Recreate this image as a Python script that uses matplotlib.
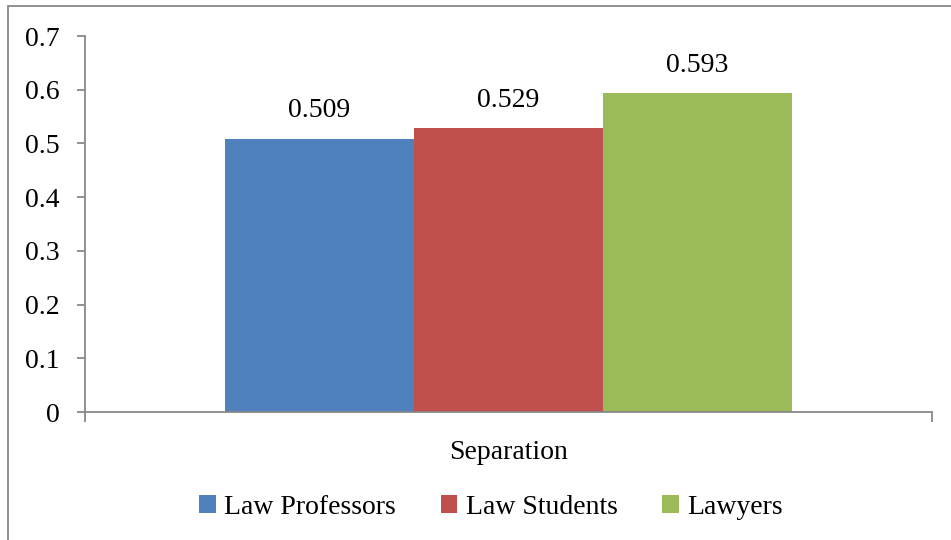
import matplotlib
matplotlib.use("Agg")
import matplotlib.pyplot as plt
from matplotlib.patches import Rectangle, Patch
import numpy as np

categories = ["Separation"]
series_names = ["Law Professors", "Law Students", "Lawyers"]
series_values = [[0.509], [0.529], [0.593]]
colors = ["#4F81BD", "#C0504D", "#9BBB59"]
yticks = [0, 0.1, 0.2, 0.3, 0.4, 0.5, 0.6, 0.7]
ytick_labels = ["0", "0.1", "0.2", "0.3", "0.4", "0.5", "0.6", "0.7"]

plt.rcParams['font.family'] = ['Liberation Serif', 'DejaVu Serif']
fs = 20

fig = plt.figure(figsize=(9.51, 5.4), dpi=100)
fig.patches.append(Rectangle((8/951, -0.1), 1.2, 1 - 6/540 + 0.1, transform=fig.transFigure,
                             fill=False, edgecolor="#888888", linewidth=1.3, zorder=0))
ax = fig.add_axes([85/951, 1 - 412/540, (932 - 85)/951, (412 - 36)/540])

n = len(series_names)
bw = 0.223
x = np.arange(len(categories))
for i, (name, vals, c) in enumerate(zip(series_names, series_values, colors)):
    pos = x + (i - (n - 1) / 2) * bw
    bars = ax.bar(pos, vals, width=bw, color=c, label=name, zorder=2)
    for b, v in zip(bars, vals):
        ax.annotate(f"{v:.3f}", (b.get_x() + b.get_width() / 2, v), xytext=(0, 11),
                    textcoords="offset points", ha="center", va="bottom", fontsize=fs)

ax.set_xlim(-0.5, len(categories) - 0.5)
ax.set_ylim(0, 0.7)
ax.set_yticks(yticks)
ax.set_yticklabels(ytick_labels, fontsize=fs)
ax.set_xticks([-0.5, 0.5])
ax.set_xticklabels(["", ""])
ax.tick_params(axis="x", direction="out", length=7, color="#888888", width=1.3)
ax.tick_params(axis="y", direction="out", length=6, color="#888888", width=1.3, pad=12)
for s in ["top", "right"]:
    ax.spines[s].set_visible(False)
for s in ["left", "bottom"]:
    ax.spines[s].set_color("#888888")
    ax.spines[s].set_linewidth(1.3)
for xc, cat in zip(x, categories):
    ax.text(xc, -0.075, cat, ha="center", va="center", fontsize=fs)

handles = [Patch(facecolor=c, label=nm) for nm, c in zip(series_names, colors)]
fig.legend(handles=handles, loc="center", bbox_to_anchor=(491/951, 1 - 507/540), ncol=3,
           frameon=False, fontsize=fs, handlelength=0.6, handleheight=0.6,
           handletextpad=0.3, columnspacing=1.6)

fig.savefig("out.png", dpi=100)
